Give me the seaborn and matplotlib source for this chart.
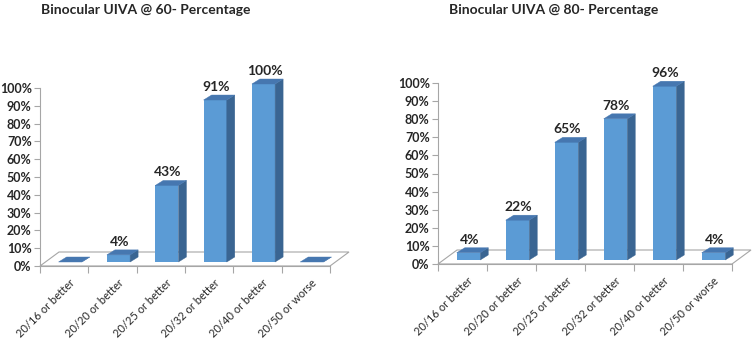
import numpy as np
import matplotlib
matplotlib.use('Agg')
import matplotlib.pyplot as plt
import matplotlib.transforms as mtransforms
from matplotlib.patches import Polygon
from matplotlib.ticker import PercentFormatter, FixedLocator
import pandas as pd
import seaborn as sns

categories = ['20/16 or better', '20/20 or better', '20/25 or better',
              '20/32 or better', '20/40 or better', '20/50 or worse']
uiva_60 = [0, 4, 43, 91, 100, 0]
uiva_80 = [4, 22, 65, 78, 96, 4]
titles = ['Binocular UIVA @ 60- Percentage', 'Binocular UIVA @ 80- Percentage']

FRONT = '#5B9BD5'
SIDE = '#3A6592'
TOP = '#4677B0'
AXIS = '#A6A6A6'

sns.set_style('white')
plt.rcParams['font.family'] = ['Lato', 'DejaVu Sans']

DPI = 100
fig = plt.figure(figsize=(7.53, 3.42), dpi=DPI)

# axes boxes in figure fractions (0..100% spans the y axis)
boxes = [
    [40 / 753, 76 / 342, 290 / 753, 178 / 342],
    [438 / 753, 78 / 342, 294 / 753, 181 / 342],
]
title_x = [146 / 753, 554 / 753]

SHIFT = (6, 4)     # px offset of bars from front plane
DEPTH = (8, 5)     # px depth of each bar
FLOOR = (19, 14)   # px depth of floor


def add_depth(ax, shift=SHIFT, depth=DEPTH, floor=FLOOR):
    ident = mtransforms.IdentityTransform()
    bars = list(ax.patches)
    # floor
    (fx0, fy0) = ax.transAxes.transform((0, 0))
    (fx1, _) = ax.transAxes.transform((1, 0))
    floor_pts = [(fx0, fy0), (fx1, fy0), (fx1 + floor[0], fy0 + floor[1]),
                 (fx0 + floor[0], fy0 + floor[1])]
    ax.add_patch(Polygon(floor_pts, closed=True, facecolor='white',
                         edgecolor=AXIS, lw=0.8, transform=ident,
                         clip_on=False, zorder=0.5))
    off = mtransforms.ScaledTranslation(shift[0] / DPI, shift[1] / DPI,
                                        fig.dpi_scale_trans)
    dx, dy = depth
    for bar in bars:
        bb = bar.get_bbox()
        bar.set_transform(ax.transData + off)
        bar.set_clip_on(False)
        bar.set_zorder(2)
        (x0, y0) = ax.transData.transform((bb.x0, bb.y0))
        (x1, y1) = ax.transData.transform((bb.x1, bb.y1))
        x0 += shift[0]; x1 += shift[0]
        y0 += shift[1]; y1 += shift[1]
        side = [(x1, y0), (x1 + dx, y0 + dy), (x1 + dx, y1 + dy), (x1, y1)]
        top = [(x0, y1), (x1, y1), (x1 + dx, y1 + dy), (x0 + dx, y1 + dy)]
        ax.add_patch(Polygon(side, closed=True, facecolor=SIDE, edgecolor=SIDE,
                             lw=0.3, transform=ident, clip_on=False, zorder=2))
        ax.add_patch(Polygon(top, closed=True, facecolor=TOP, edgecolor=TOP,
                             lw=0.3, transform=ident, clip_on=False, zorder=2))


for i, values in enumerate([uiva_60, uiva_80]):
    ax = fig.add_axes(boxes[i])
    df = pd.DataFrame({'category': categories, 'pct': values})
    sns.barplot(data=df, x='category', y='pct', color=FRONT, saturation=1,
                width=0.48, linewidth=0, ax=ax)
    ax.set_xlim(-0.5, len(categories) - 0.5)
    ax.set_ylim(0, 100)
    ax.set_xlabel('')
    ax.set_ylabel('')

    for s in ['top', 'right']:
        ax.spines[s].set_visible(False)
    for s in ['left', 'bottom']:
        ax.spines[s].set_color(AXIS)
        ax.spines[s].set_linewidth(0.8)

    ax.set_yticks(np.arange(0, 101, 10))
    ax.yaxis.set_major_formatter(PercentFormatter(decimals=0))
    ax.tick_params(axis='y', left=True, length=4, width=0.8, color=AXIS,
                   labelsize=9, pad=2)
    for lab in ax.get_yticklabels():
        lab.set_fontweight('bold')

    ax.set_xticks(range(len(categories)))
    ax.set_xticklabels(categories, rotation=45, ha='right',
                       rotation_mode='anchor', fontsize=8)
    ax.xaxis.set_minor_locator(FixedLocator(np.arange(-0.5, len(categories), 1)))
    ax.tick_params(axis='x', which='major', length=0, pad=8)
    ax.tick_params(axis='x', which='minor', bottom=True, length=5, width=0.8,
                   color=AXIS)
    lab_off = mtransforms.ScaledTranslation(5 / DPI, 0, fig.dpi_scale_trans)
    for lab in ax.get_xticklabels():
        lab.set_transform(lab.get_transform() + lab_off)

    add_depth(ax)

    for j, v in enumerate(values):
        if v == 0:
            continue
        ax.annotate(f'{v}%', xy=(j, v), xytext=(SHIFT[0] + 1, SHIFT[1] + DEPTH[1] + 2),
                    textcoords='offset pixels', ha='center', va='bottom',
                    fontsize=10, fontweight='bold', annotation_clip=False)

    fig.text(title_x[i], 1 - 10 / 342, titles[i], ha='center', va='center',
             fontsize=10, fontweight='bold')

fig.savefig('out.png', dpi=DPI)
